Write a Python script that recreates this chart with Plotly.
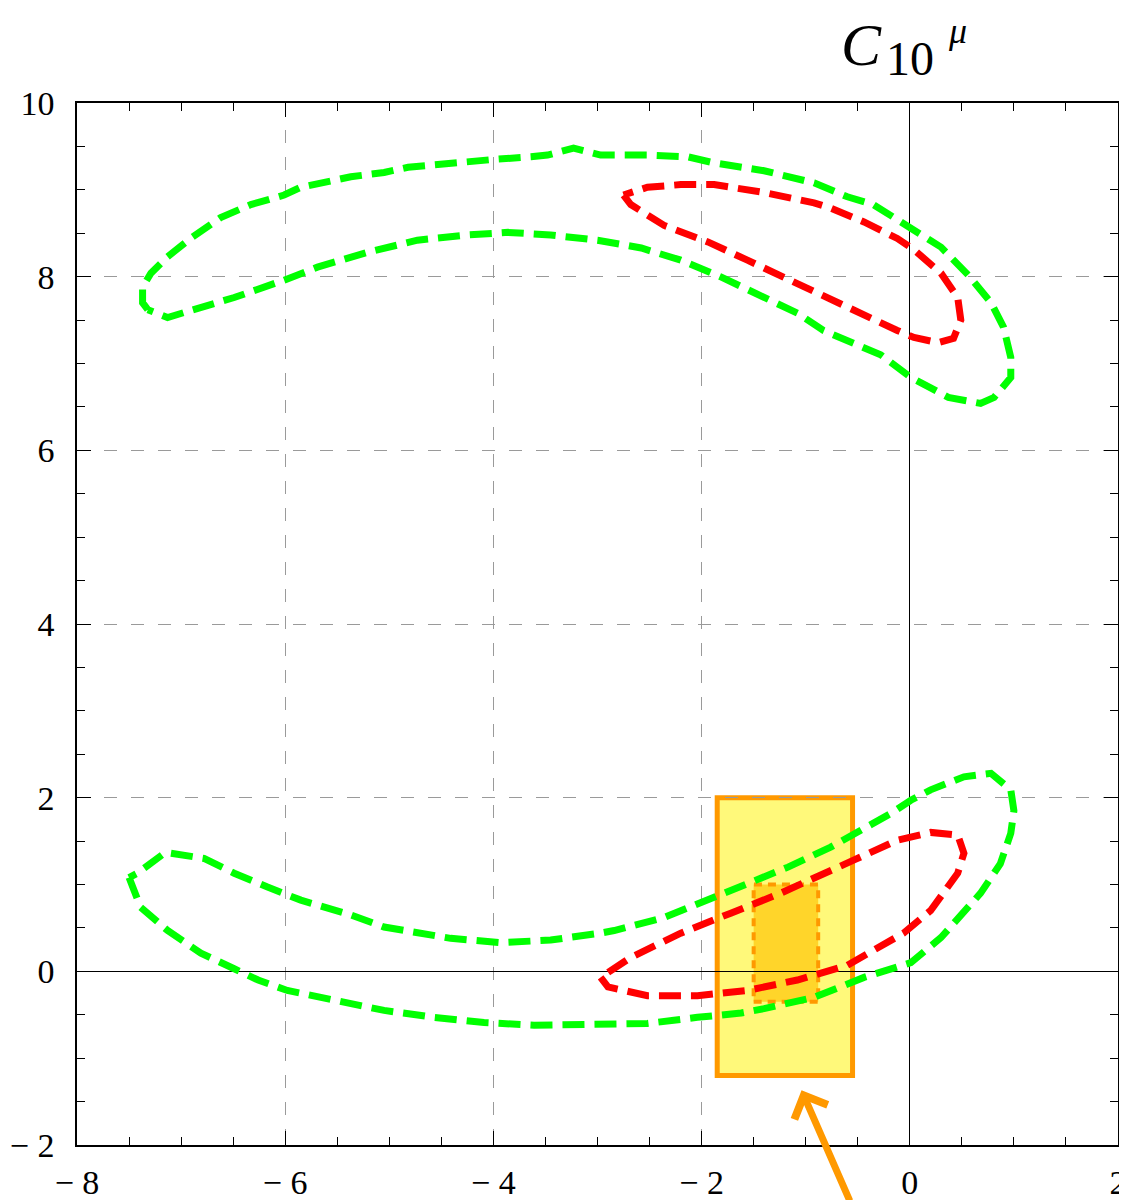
import plotly.graph_objects as go

# ---------------- data ----------------
x_ticks = [-8, -6, -4, -2, 0, 2]
x_tick_labels = ["\u2212 8", "\u2212 6", "\u2212 4", "\u2212 2", "0", "2"]
y_ticks = [-2, 0, 2, 4, 6, 8, 10]
y_tick_labels = ["\u2212 2", "0", "2", "4", "6", "8", "10"]

# upper green contour (closed)
green_up_x = [-7.32, -7.37, -7.37, -7.29, -7.13, -6.91, -6.62, -6.33, -6.01, -5.85, -5.37, -5.05,
              -4.82, -4.41, -4.00, -3.64, -3.48, -3.23, -2.97, -2.52, -2.13, -1.88, -1.40, -0.92,
              -0.60, -0.35, 0.01, 0.30, 0.56, 0.78, 0.90, 0.97, 0.97, 0.81, 0.68, 0.37, 0.20, 0.01,
              -0.28, -0.60, -0.83, -1.08, -1.40, -1.82, -2.20, -2.58, -3.00, -3.45, -3.86, -4.25,
              -4.73, -5.21, -5.69, -6.01, -6.49, -6.81, -7.13, -7.32]
green_up_y = [7.62, 7.70, 7.88, 8.04, 8.23, 8.44, 8.68, 8.83, 8.94, 9.03, 9.15, 9.20,
              9.26, 9.31, 9.35, 9.38, 9.40, 9.48, 9.40, 9.40, 9.38, 9.31, 9.22, 9.08,
              8.92, 8.83, 8.56, 8.34, 8.02, 7.70, 7.42, 7.07, 6.84, 6.61, 6.54, 6.61, 6.72, 6.84,
              7.10, 7.27, 7.38, 7.58, 7.76, 8.00, 8.19, 8.33, 8.42, 8.48, 8.51, 8.48,
              8.42, 8.28, 8.11, 7.96, 7.76, 7.64, 7.53, 7.62]

# upper red contour (closed)
red_up_x = [-2.75, -2.68, -2.36, -1.94, -1.56, -1.08, -0.60, -0.12, 0.04, 0.27, 0.42, 0.49,
            0.46, 0.30, 0.04, -0.12, -0.44, -0.76, -0.92, -1.40, -1.88, -2.20, -2.52, -2.75]
red_up_y = [8.94, 8.83, 8.59, 8.40, 8.19, 7.93, 7.65, 7.38, 7.30, 7.24, 7.29, 7.50,
            7.76, 8.04, 8.31, 8.44, 8.63, 8.79, 8.85, 8.97, 9.06, 9.06, 9.03, 8.94]

# lower green contour (closed)
green_lo_x = [-7.50, -7.39, -7.13, -6.81, -6.49, -6.26, -5.98, -5.53, -5.05, -4.57, -4.09, -3.61,
              -2.97, -2.52, -2.04, -1.62, -1.40, -0.92, -0.44, 0.01, 0.30, 0.68, 0.87, 0.97,
              1.00, 0.97, 0.78, 0.52, 0.20, 0.01, -0.18, -0.44, -0.76, -1.17, -1.56, -1.94,
              -2.36, -2.84, -2.97, -3.45, -3.93, -4.41, -4.73, -5.05, -5.37, -5.85, -6.17, -6.49,
              -6.78, -7.15, -7.42, -7.50]
green_lo_y = [1.08, 0.74, 0.47, 0.21, 0.03, -0.10, -0.22, -0.33, -0.45, -0.53, -0.59, -0.62,
              -0.62, -0.60, -0.53, -0.48, -0.43, -0.30, -0.07, 0.10, 0.39, 0.90, 1.24, 1.59,
              1.85, 2.09, 2.28, 2.24, 2.09, 1.97, 1.82, 1.65, 1.43, 1.20, 1.01, 0.82,
              0.62, 0.47, 0.44, 0.36, 0.33, 0.38, 0.45, 0.51, 0.65, 0.82, 0.97, 1.13,
              1.30, 1.37, 1.13, 1.08]

# lower red contour (closed)
red_lo_x = [-2.97, -2.90, -2.52, -2.04, -1.56, -1.08, -0.60, -0.06, 0.20, 0.46, 0.52, 0.46,
            0.20, -0.12, -0.54, -0.85, -1.24, -1.72, -2.20, -2.68, -2.97]
red_lo_y = [-0.07, -0.18, -0.28, -0.28, -0.22, -0.10, 0.07, 0.44, 0.70, 1.13, 1.36, 1.57,
            1.60, 1.51, 1.28, 1.11, 0.90, 0.67, 0.44, 0.16, -0.07]

# boxes: [x_min, x_max], [y_min, y_max]
outer_box_x = [-1.85, -0.55]
outer_box_y = [-1.2, 2.0]
inner_box_x = [-1.50, -0.88]
inner_box_y = [-0.35, 1.0]

# arrow: tip and tail
arrow_tip = [-1.04, -1.37]
arrow_tail = [-0.57, -2.66]

# ---------------- figure ----------------
GREEN = "#00FF00"
RED = "#FF0000"
ORANGE = "#FF9900"
FONT = "Liberation Serif"

fig = go.Figure()

contours = [
    (green_up_x, green_up_y, GREEN),
    (red_up_x, red_up_y, RED),
    (green_lo_x, green_lo_y, GREEN),
    (red_lo_x, red_lo_y, RED),
]
for xs, ys, col in contours:
    fig.add_trace(go.Scatter(
        x=xs, y=ys, mode="lines",
        line=dict(color=col, width=7, dash="22px,10px"),
        hoverinfo="skip", showlegend=False,
    ))

shapes = [
    dict(type="rect", xref="x", yref="y",
         x0=outer_box_x[0], x1=outer_box_x[1], y0=outer_box_y[0], y1=outer_box_y[1],
         fillcolor="#FFF97A", line=dict(color=ORANGE, width=5), layer="below"),
    dict(type="rect", xref="x", yref="y",
         x0=inner_box_x[0], x1=inner_box_x[1], y0=inner_box_y[0], y1=inner_box_y[1],
         fillcolor="#FFD52A", line=dict(color=ORANGE, width=4, dash="8px,6px"), layer="below"),
]

axis_common = dict(
    automargin=False,
    showline=True, linecolor="black", linewidth=1.5, mirror="ticks",
    ticks="inside", ticklen=14, tickwidth=1.2, tickcolor="black",
    showgrid=True, gridcolor="#9a9a9a", gridwidth=1.2, griddash="13px,14px",
    zeroline=True, zerolinecolor="black", zerolinewidth=1.2,
    tickfont=dict(family=FONT, size=34, color="black"),
    minor=dict(dtick=0.5, ticks="inside", ticklen=8, tickwidth=1.2,
               tickcolor="black", showgrid=False),
)

fig.update_layout(
    width=1119, height=1192,
    margin=dict(l=69, r=9, t=95, b=55, autoexpand=False),
    paper_bgcolor="white", plot_bgcolor="white",
    showlegend=False,
    shapes=shapes,
    xaxis=dict(range=[-8, 2], tickvals=x_ticks, ticktext=x_tick_labels,
               ticklabelstandoff=6, **axis_common),
    yaxis=dict(range=[-2, 10], tickvals=y_ticks, ticktext=y_tick_labels,
               ticklabelstandoff=14, **axis_common),
)

# title C_10^mu
fig.add_annotation(xref="paper", yref="paper", x=0.754, y=1.056, text="<i>C</i>",
                   xanchor="center", yanchor="middle",
                   showarrow=False, font=dict(family=FONT, size=60, color="black"))
fig.add_annotation(xref="paper", yref="paper", x=0.800, y=1.043, text="10",
                   xanchor="center", yanchor="middle",
                   showarrow=False, font=dict(family=FONT, size=48, color="black"))
fig.add_annotation(xref="paper", yref="paper", x=0.846, y=1.069, text="<i>μ</i>",
                   xanchor="center", yanchor="middle",
                   showarrow=False, font=dict(family=FONT, size=36, color="black"))

# hand-drawn-like arrow
fig.add_annotation(x=arrow_tip[0], y=arrow_tip[1], ax=arrow_tail[0], ay=arrow_tail[1],
                   xref="x", yref="y", axref="x", ayref="y", text="",
                   showarrow=True, arrowhead=4, arrowsize=1.0, arrowwidth=7,
                   arrowcolor=ORANGE)

fig.write_html("out.html")
